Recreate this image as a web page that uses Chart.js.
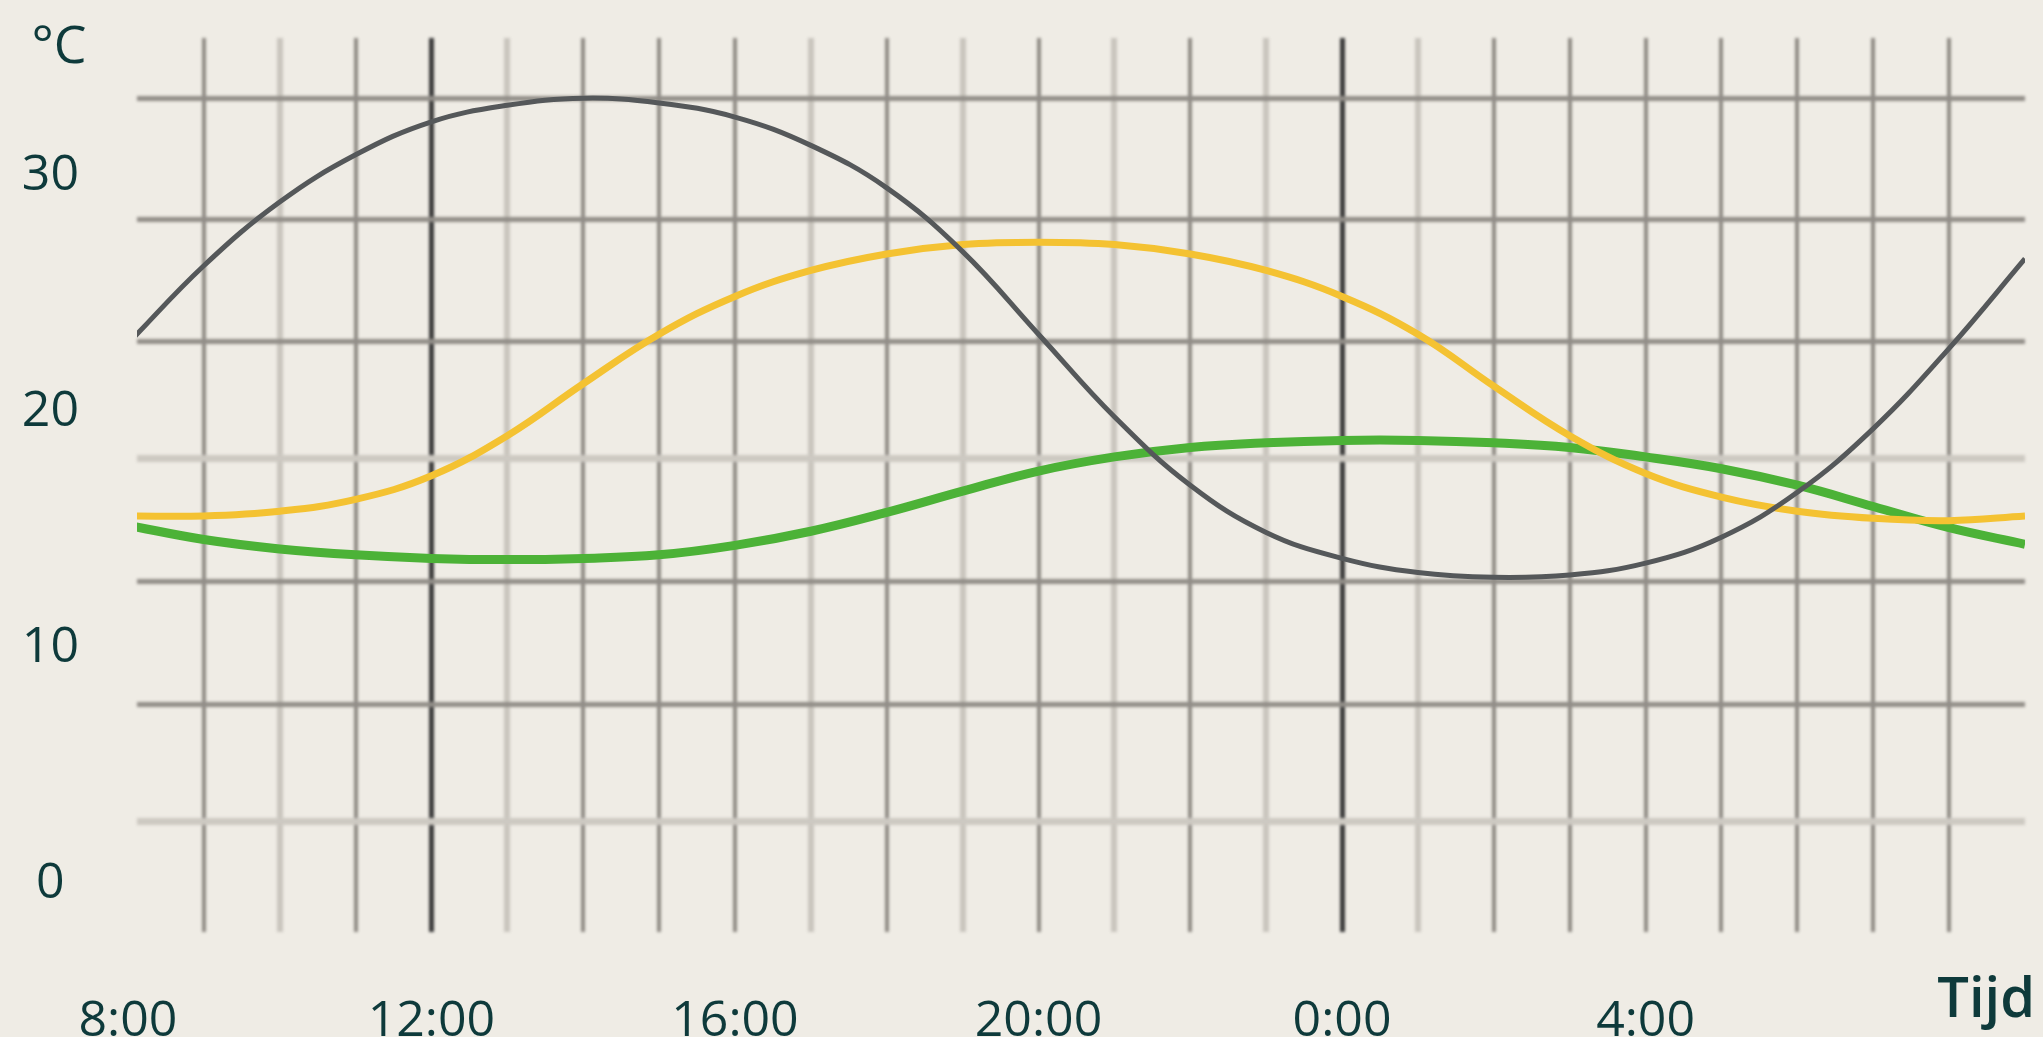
<!DOCTYPE html>
<html>
<head>
<meta charset="utf-8">
<script src="https://cdn.jsdelivr.net/npm/chart.js@4.4.0/dist/chart.umd.min.js"></script>
<style>
  html, body { margin: 0; padding: 0; background: #efece5; }
  #wrap { width: 2043px; height: 1037px; position: relative; }
</style>
</head>
<body>
<div id="wrap"><canvas id="chart"></canvas></div>
<script>
// hours since midnight of day 1 (24 = 0:00, 28 = 4:00 next day)
const hours = [8, 9, 10, 11, 12, 13, 14, 15, 16, 17, 18, 19, 20,
  21, 22, 23, 24, 25, 26, 27, 28, 29, 30, 31, 32, 33];

const grayTemps = [22.9, 26.2, 28.9, 30.9, 32.3, 33.0, 33.3, 33.1, 32.5, 31.3, 29.5, 26.8, 23.3,
  19.8, 16.9, 14.9, 13.8, 13.2, 13.0, 13.1, 13.6, 14.7, 16.6, 19.3, 22.7, 26.5];

const yellowTemps = [15.6, 15.6, 15.8, 16.3, 17.3, 19.0, 21.2, 23.3, 24.9, 26.0, 26.7, 27.1, 27.2,
  27.1, 26.7, 26.0, 24.9, 23.3, 21.1, 19.0, 17.4, 16.4, 15.8, 15.5, 15.4, 15.6];

const greenTemps = [15.2, 14.6, 14.2, 13.95, 13.8, 13.75, 13.8, 13.95, 14.35, 14.95, 15.75, 16.65, 17.5,
  18.1, 18.5, 18.7, 18.8, 18.8, 18.7, 18.5, 18.1, 17.6, 16.9, 16.0, 15.1, 14.4];

const yTicks = [0, 10, 20, 30];
const yGridValues = [2.64, 7.6, 12.82, 18.05, 23.0, 28.18, 33.3];
const xLabelHours = [8, 12, 16, 20, 24, 28];

const textColor = '#0e3a3b';
const fontFamily = '"Open Sans", "Noto Sans", sans-serif';

function hourLabel(h) {
  return (h % 24) + ':00';
}

function toPoints(values) {
  return hours.map((h, i) => ({ x: h, y: values[i] }));
}

// grid looks soft in the original, blur only the grid layer
const blurGrid = {
  id: 'blurGrid',
  beforeDraw(chart) {
    chart.ctx.save();
    chart.ctx.filter = 'blur(1.6px)';
  },
  beforeDatasetsDraw(chart) {
    chart.ctx.restore();
  }
};

// unit labels: °C top left, Tijd bottom right
const unitLabels = {
  id: 'unitLabels',
  afterDraw(chart) {
    const ctx = chart.ctx;
    ctx.save();
    ctx.fillStyle = textColor;
    ctx.font = '500 52px ' + fontFamily;
    ctx.textAlign = 'center';
    ctx.textBaseline = 'alphabetic';
    ctx.fillText('°C', 59, 63);
    ctx.font = '600 56px ' + fontFamily;
    ctx.textAlign = 'right';
    ctx.fillText('Tijd', chart.width - 8, 1017);
    ctx.restore();
  }
};

// labels may hang outside, no extra room around the plot
function noPad(s) {
  s.paddingTop = 0;
  s.paddingBottom = 0;
  s.paddingLeft = 0;
  s.paddingRight = 0;
}

const lightHours = [10, 13, 17, 19, 21, 23, 25];

new Chart(document.getElementById('chart'), {
  type: 'line',
  data: {
    datasets: [
      {
        data: toPoints(grayTemps),
        borderColor: '#55585a',
        borderWidth: 5,
        tension: 0.4
      },
      {
        data: toPoints(yellowTemps),
        borderColor: '#f4c232',
        borderWidth: 7,
        tension: 0.4
      },
      {
        data: toPoints(greenTemps),
        borderColor: '#4cb237',
        borderWidth: 9,
        tension: 0.4
      }
    ]
  },
  options: {
    responsive: true,
    maintainAspectRatio: false,
    animation: false,
    layout: { padding: { top: 38, right: 18, left: 0, bottom: 0 } },
    elements: { point: { radius: 0 } },
    plugins: { legend: { display: false }, tooltip: { enabled: false } },
    scales: {
      x: {
        type: 'linear',
        min: 8.12,
        max: 33,
        afterBuildTicks: s => {
          const t = [];
          for (let h = 8; h <= 32; h++) t.push({ value: h });
          s.ticks = t;
        },
        afterFit: s => { s.height = 105; noPad(s); },
        border: { display: false },
        grid: {
          drawTicks: false,
          color: c => {
            const v = c.tick.value;
            if (v === 8) return 'rgba(0,0,0,0)';
            if (v === 12 || v === 24) return '#3a3a3a';
            return lightHours.includes(v) ? '#c9c5be' : '#8f8b85';
          },
          lineWidth: c => {
            const v = c.tick.value;
            if (v === 12 || v === 24) return 5;
            return lightHours.includes(v) ? 6 : 4;
          }
        },
        ticks: {
          z: 1,
          autoSkip: false,
          maxRotation: 0,
          padding: 60,
          color: textColor,
          font: { family: fontFamily, size: 50 },
          callback: v => xLabelHours.includes(v) ? hourLabel(v) : ''
        }
      },
      yg: {
        position: 'left',
        min: -2.03,
        max: 35.85,
        afterBuildTicks: s => { s.ticks = yGridValues.map(v => ({ value: v })); },
        afterFit: s => { s.width = 0; noPad(s); },
        border: { display: false },
        ticks: { display: false },
        grid: {
          drawTicks: false,
          color: c => (c.index === 0 || c.index === 3) ? '#cdc9c2' : '#928e88',
          lineWidth: c => (c.index === 0 || c.index === 3) ? 7 : 5
        }
      },
      y: {
        position: 'left',
        min: -2.03,
        max: 35.85,
        afterBuildTicks: s => { s.ticks = yTicks.map(v => ({ value: v })); },
        afterFit: s => { s.width = 137; noPad(s); },
        border: { display: false },
        grid: { display: false },
        ticks: {
          z: 1,
          crossAlign: 'center',
          padding: 50,
          color: textColor,
          font: { family: fontFamily, size: 50 }
        }
      }
    }
  },
  plugins: [blurGrid, unitLabels]
});
</script>
</body>
</html>
